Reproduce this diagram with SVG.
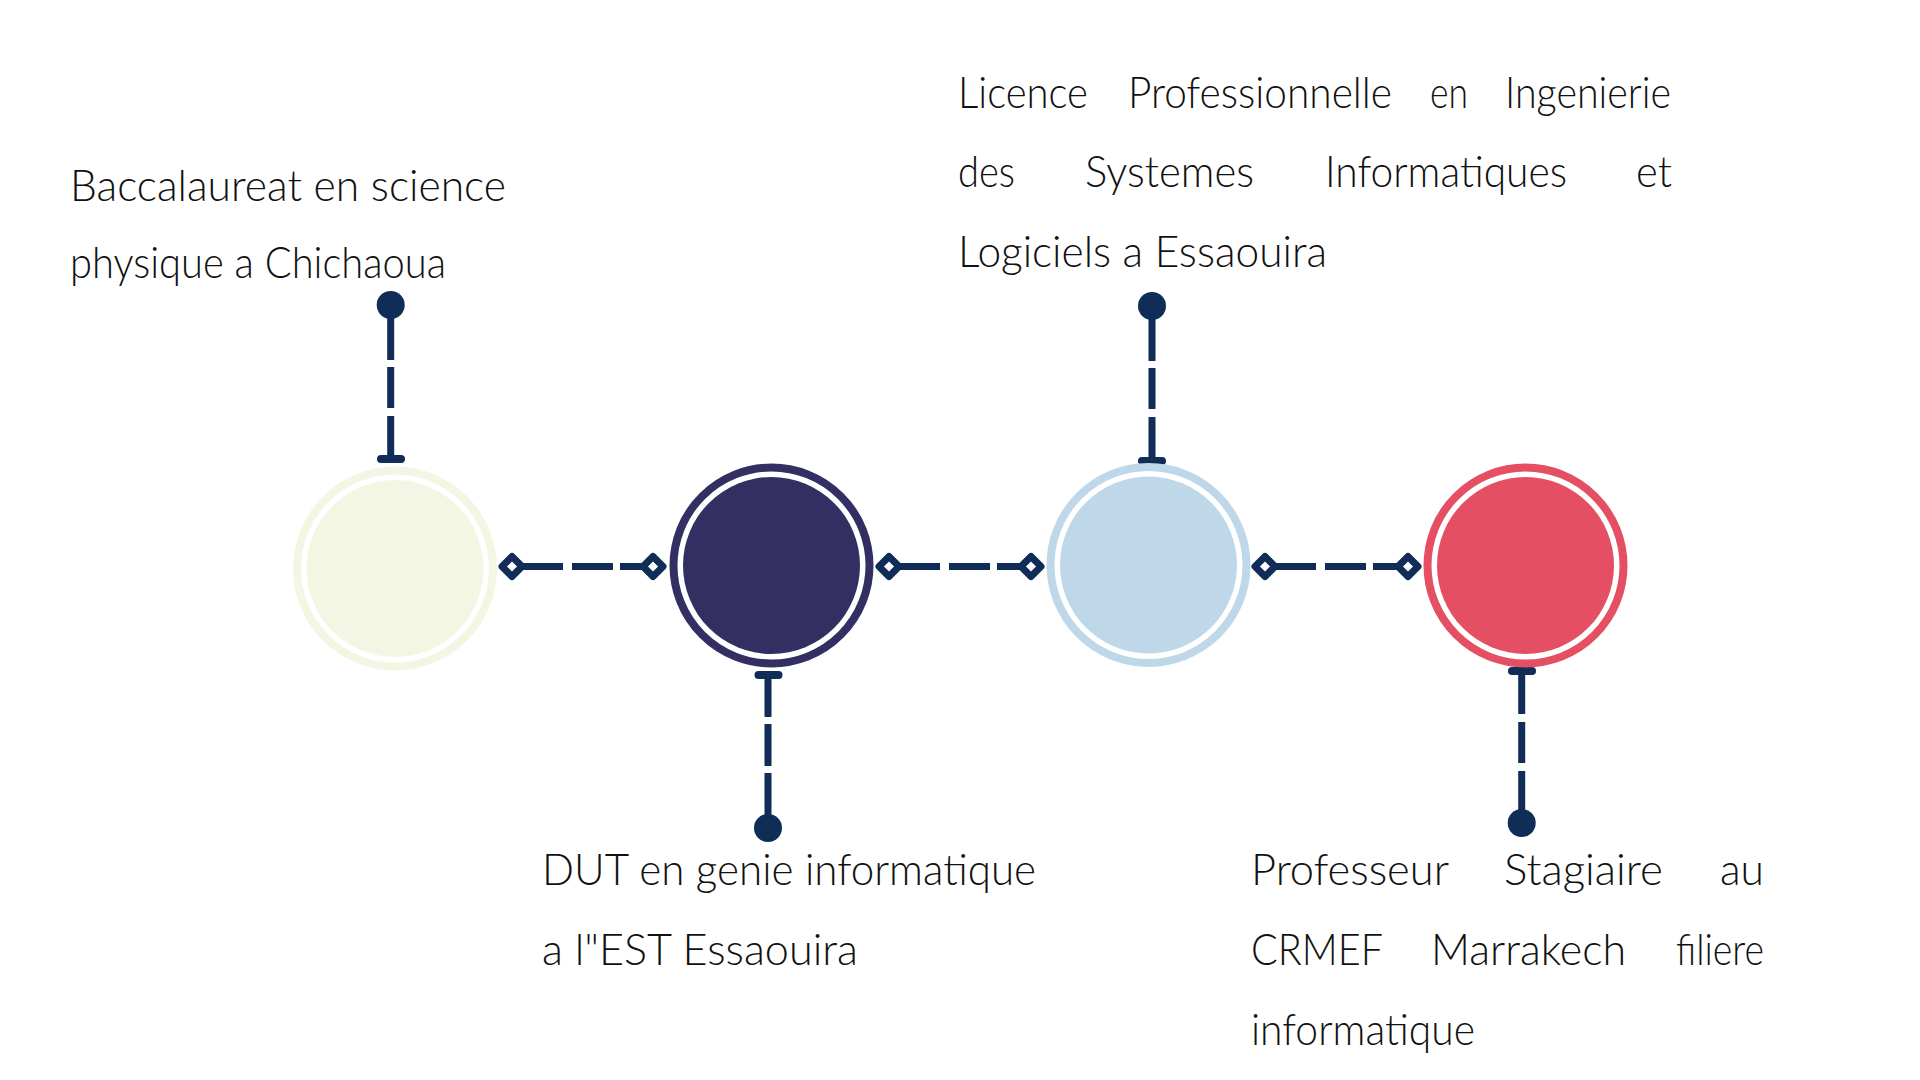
<svg xmlns="http://www.w3.org/2000/svg" xmlns:xlink="http://www.w3.org/1999/xlink" width="1920" height="1080" viewBox="0 0 1920 1080">
<style>
.lbl{font-family:"Lato","Liberation Sans",sans-serif;font-weight:300;font-size:44px;fill:#111}
.ln{stroke:#0F2D57;stroke-width:7;fill:none}
.bar{stroke:#0F2D57;stroke-width:8;stroke-linecap:round;fill:none}
.dot{fill:#0F2D57}
.dia{fill:#fff;stroke:#0F2D57;stroke-width:7;stroke-linejoin:round}
.ring{fill:none;stroke-width:8}
</style>
<defs>
<path id="dia" d="M-10 0L0-10L10 0L0 10Z"/>
</defs>
<rect width="1920" height="1080" fill="#fff"/>

<g id="connectors">
  <line class="ln" x1="512" y1="566.5" x2="653" y2="566.5" stroke-dasharray="51 9 41 7 60"/>
  <line class="ln" x1="889" y1="566.5" x2="1031" y2="566.5" stroke-dasharray="51 9 41 7 60"/>
  <line class="ln" x1="1265" y1="566.5" x2="1408" y2="566.5" stroke-dasharray="51 9 41 7 60"/>
  <use xlink:href="#dia" class="dia" x="512" y="566.5"/>
  <use xlink:href="#dia" class="dia" x="653" y="566.5"/>
  <use xlink:href="#dia" class="dia" x="889" y="566.5"/>
  <use xlink:href="#dia" class="dia" x="1031" y="566.5"/>
  <use xlink:href="#dia" class="dia" x="1265" y="566.5"/>
  <use xlink:href="#dia" class="dia" x="1408" y="566.5"/>

  <line class="ln" x1="390.7" y1="305" x2="390.7" y2="459" stroke-dasharray="55 7 41 8 80"/>
  <circle class="dot" cx="390.7" cy="305" r="14"/>
  <line class="bar" x1="381" y1="459" x2="401" y2="459"/>

  <line class="ln" x1="1152" y1="306" x2="1152" y2="461" stroke-dasharray="55 7 41 8 80"/>
  <circle class="dot" cx="1152" cy="306" r="14"/>
  <line class="bar" x1="1142" y1="461" x2="1162" y2="461"/>

  <line class="ln" x1="768" y1="675" x2="768" y2="828" stroke-dasharray="42 7 42 7 80"/>
  <line class="bar" x1="758.5" y1="675" x2="778.5" y2="675"/>
  <circle class="dot" cx="768" cy="828" r="14"/>

  <line class="ln" x1="1521.7" y1="671" x2="1521.7" y2="823" stroke-dasharray="43 8 41 8 80"/>
  <line class="bar" x1="1512" y1="671" x2="1532" y2="671"/>
  <circle class="dot" cx="1521.7" cy="823" r="14"/>
</g>

<g id="node1">
  <circle class="ring" cx="395" cy="568.5" r="98" stroke="#F3F6E3"/>
  <circle cx="395" cy="568.5" r="88.5" fill="#F3F6E3"/>
  <text class="lbl" x="70" y="201" textLength="436" lengthAdjust="spacingAndGlyphs">Baccalaureat en science</text>
  <text class="lbl" x="70" y="278" textLength="376" lengthAdjust="spacingAndGlyphs">physique a Chichaoua</text>
</g>

<g id="node2">
  <circle class="ring" cx="771.5" cy="565.5" r="98" stroke="#332F63"/>
  <circle cx="771.5" cy="565.5" r="88.5" fill="#332F63"/>
  <text class="lbl" x="542" y="885" textLength="494" lengthAdjust="spacingAndGlyphs">DUT en genie informatique</text>
  <text class="lbl" x="542" y="965" textLength="316" lengthAdjust="spacingAndGlyphs">a l&quot;EST Essaouira</text>
</g>

<g id="node3">
  <circle class="ring" cx="1148.5" cy="565" r="98" stroke="#BED7E9"/>
  <circle cx="1148.5" cy="565" r="88.5" fill="#BED7E9"/>
  <text class="lbl" x="958" y="108" textLength="130" lengthAdjust="spacingAndGlyphs">Licence</text>
  <text class="lbl" x="1128" y="108" textLength="264" lengthAdjust="spacingAndGlyphs">Professionnelle</text>
  <text class="lbl" x="1430" y="108" textLength="38" lengthAdjust="spacingAndGlyphs">en</text>
  <text class="lbl" x="1505" y="108" textLength="166" lengthAdjust="spacingAndGlyphs">Ingenierie</text>
  <text class="lbl" x="958" y="187" textLength="57" lengthAdjust="spacingAndGlyphs">des</text>
  <text class="lbl" x="1085" y="187" textLength="169" lengthAdjust="spacingAndGlyphs">Systemes</text>
  <text class="lbl" x="1325" y="187" textLength="242" lengthAdjust="spacingAndGlyphs">Informatiques</text>
  <text class="lbl" x="1636" y="187" textLength="36" lengthAdjust="spacingAndGlyphs">et</text>
  <text class="lbl" x="958" y="267" textLength="369" lengthAdjust="spacingAndGlyphs">Logiciels a Essaouira</text>
</g>

<g id="node4">
  <circle class="ring" cx="1525.5" cy="565.5" r="98" stroke="#E54F64"/>
  <circle cx="1525.5" cy="565.5" r="88.5" fill="#E54F64"/>
  <text class="lbl" x="1251" y="885" textLength="198" lengthAdjust="spacingAndGlyphs">Professeur</text>
  <text class="lbl" x="1504" y="885" textLength="159" lengthAdjust="spacingAndGlyphs">Stagiaire</text>
  <text class="lbl" x="1720" y="885" textLength="44" lengthAdjust="spacingAndGlyphs">au</text>
  <text class="lbl" x="1251" y="965" textLength="132" lengthAdjust="spacingAndGlyphs">CRMEF</text>
  <text class="lbl" x="1431" y="965" textLength="195" lengthAdjust="spacingAndGlyphs">Marrakech</text>
  <text class="lbl" x="1676" y="965" textLength="88" lengthAdjust="spacingAndGlyphs">filiere</text>
  <text class="lbl" x="1251" y="1045" textLength="224" lengthAdjust="spacingAndGlyphs">informatique</text>
</g>
</svg>
